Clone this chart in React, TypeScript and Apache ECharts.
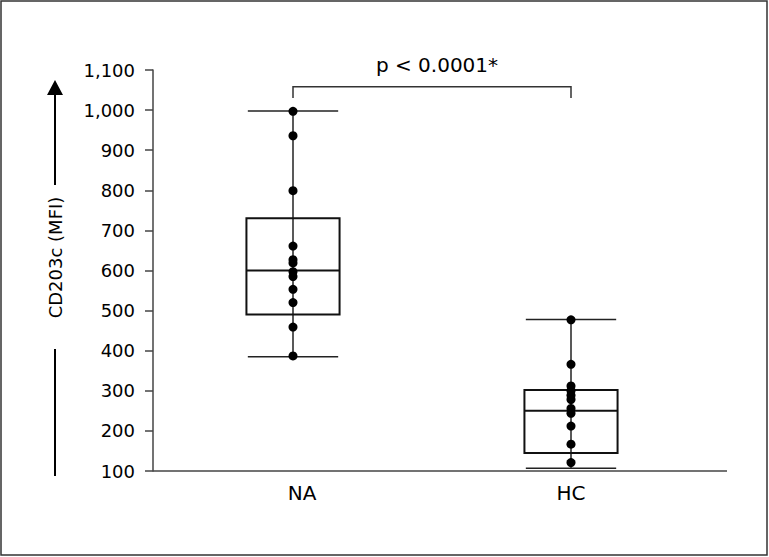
import React, { useEffect, useRef } from "react";
import * as echarts from "echarts";

const categories = ["NA", "HC"];
// box stats: [lower whisker, Q1, median, Q3, upper whisker]
const naBox = [385, 490, 600, 730, 998];
const hcBox = [107, 145, 250, 302, 478];
const naPoints = [997, 936, 799, 661, 627, 619, 597, 585, 553, 520, 459, 387];
const hcPoints = [477, 366, 312, 300, 289, 278, 256, 244, 212, 167, 121];
const yMin = 100;
const yMax = 1100;
const yInterval = 100;
const bracketY = 1058;
const bracketLegY = 1030;
const pLabel = "p < 0.0001*";
const yTitle = "CD203c (MFI)";

const FONT = "DejaVu Sans";

export default function App() {
  const ref = useRef<HTMLDivElement>(null);
  useEffect(() => {
    if (!ref.current) return;
    const chart = echarts.init(ref.current, null, { renderer: "svg" });
    const boxData = [
      [categories[0], ...naBox],
      [categories[1], ...hcBox],
    ];
    const scatterData = [
      ...naPoints.map((v) => [categories[0], v]),
      ...hcPoints.map((v) => [categories[1], v]),
    ];
    chart.setOption({
      animation: false,
      backgroundColor: "#fff",
      grid: { left: 154, right: 59, top: 70, bottom: 86, containLabel: false },
      xAxis: {
        type: "category",
        data: [
          { value: categories[0], textStyle: { padding: [0, 0, 0, 18] } },
          { value: categories[1] },
        ],
        axisLine: { show: false },
        axisTick: { show: false },
        axisLabel: { fontFamily: FONT, fontSize: 20, color: "#000", margin: 12 },
        splitLine: { show: false },
      },
      yAxis: {
        type: "value",
        min: yMin,
        max: yMax,
        interval: yInterval,
        offset: 1,
        axisLine: { show: true, lineStyle: { color: "#444", width: 1.5 } },
        axisTick: { show: true, length: 8, lineStyle: { color: "#444", width: 1.5 } },
        axisLabel: {
          fontFamily: FONT,
          fontSize: 18,
          color: "#000",
          margin: 18,
          formatter: (v: number) => v.toLocaleString("en-US"),
        },
        splitLine: { show: false },
      },
      graphic: [
        {
          type: "rect",
          shape: { x: 1, y: 1, width: 766, height: 554 },
          style: { fill: "none", stroke: "#333", lineWidth: 1.5 },
          z: 0,
        },
        {
          type: "line",
          shape: { x1: 153, y1: 471, x2: 727, y2: 471 },
          style: { stroke: "#444", lineWidth: 1.5 },
        },
        {
          type: "polygon",
          shape: { points: [[55, 80], [47, 95], [63, 95]] },
          style: { fill: "#000" },
        },
        {
          type: "line",
          shape: { x1: 55, y1: 94, x2: 55, y2: 185 },
          style: { stroke: "#000", lineWidth: 2 },
        },
        {
          type: "line",
          shape: { x1: 55, y1: 349, x2: 55, y2: 476 },
          style: { stroke: "#000", lineWidth: 2 },
        },
        {
          type: "text",
          x: 55,
          y: 257.5,
          rotation: Math.PI / 2,
          style: {
            text: yTitle,
            fontFamily: FONT,
            fontSize: 18,
            fill: "#000",
            align: "center",
            verticalAlign: "middle",
          },
        },
        {
          type: "text",
          x: 437,
          y: 65,
          style: {
            text: pLabel,
            fontFamily: FONT,
            fontSize: 20,
            fill: "#000",
            align: "center",
            verticalAlign: "middle",
          },
        },
      ],
      series: [
        {
          type: "custom",
          z: 2,
          data: boxData,
          encode: { x: 0, y: [1, 2, 3, 4, 5] },
          renderItem: (params: any, api: any) => {
            const x = api.value(0);
            const lo = api.coord([x, api.value(1)]);
            const q1 = api.coord([x, api.value(2)]);
            const med = api.coord([x, api.value(3)]);
            const q3 = api.coord([x, api.value(4)]);
            const hi = api.coord([x, api.value(5)]);
            const band = api.size([1, 0])[0];
            const bw = band * 0.335;
            const cw = band * 0.325;
            const cx = lo[0];
            const thin = { stroke: "#222", lineWidth: 1.5 };
            const thick = { stroke: "#111", lineWidth: 2, fill: "none" };
            return {
              type: "group",
              children: [
                { type: "line", shape: { x1: cx, y1: hi[1], x2: cx, y2: lo[1] }, style: thin },
                { type: "line", shape: { x1: cx - cw / 2, y1: hi[1], x2: cx + cw / 2, y2: hi[1] }, style: thin },
                { type: "line", shape: { x1: cx - cw / 2, y1: lo[1], x2: cx + cw / 2, y2: lo[1] }, style: thin },
                {
                  type: "rect",
                  shape: { x: cx - bw / 2, y: q3[1], width: bw, height: q1[1] - q3[1] },
                  style: thick,
                },
                { type: "line", shape: { x1: cx - bw / 2, y1: med[1], x2: cx + bw / 2, y2: med[1] }, style: thick },
              ],
            };
          },
        },
        {
          type: "custom",
          z: 2,
          data: [[categories[0], categories[1], bracketY, bracketLegY]],
          encode: { x: [0, 1], y: [2, 3] },
          renderItem: (params: any, api: any) => {
            const a = api.coord([api.value(0), api.value(2)]);
            const b = api.coord([api.value(1), api.value(2)]);
            const aLeg = api.coord([api.value(0), api.value(3)]);
            const st = { stroke: "#333", lineWidth: 1.5, fill: "none" };
            return {
              type: "polyline",
              shape: { points: [[a[0], aLeg[1]], [a[0], a[1]], [b[0], b[1]], [b[0], aLeg[1]]] },
              style: st,
            };
          },
        },
        {
          type: "scatter",
          z: 3,
          data: scatterData,
          symbol: "circle",
          symbolSize: 9,
          itemStyle: { color: "#000", opacity: 1 },
        },
      ],
    });
    return () => chart.dispose();
  }, []);
  return (
    <div
      ref={ref}
      style={{ position: "fixed", left: 0, top: 0, width: 769, height: 557 }}
    />
  );
}
